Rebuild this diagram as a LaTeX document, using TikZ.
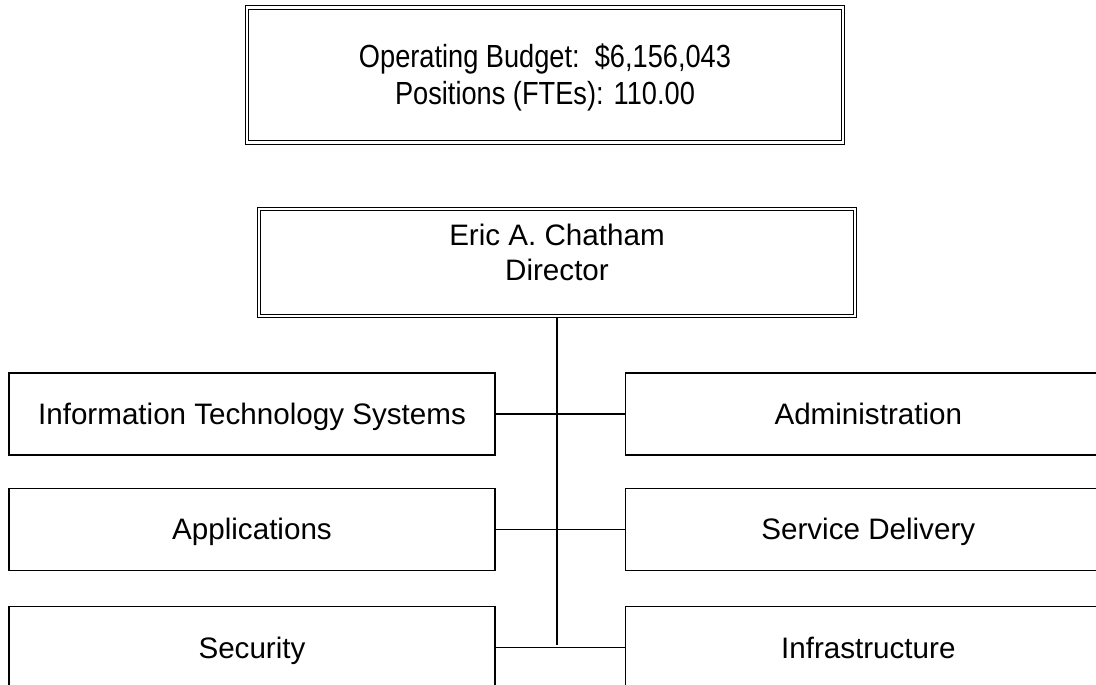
\documentclass[tikz,border=0pt]{standalone}
\usepackage{fontspec}
\setmainfont{Liberation Sans}
\newfontfamily\narrowfont[FakeStretch=0.85]{Liberation Sans}
\usetikzlibrary{positioning}
\tikzset{
  head/.style={draw, double, double distance=2.5pt, line width=1pt, inner sep=0pt,
    align=center},
  unit/.style={draw, line width=1.3pt, minimum width=486pt, minimum height=82pt,
    inner sep=0pt, text height=21pt, text depth=0pt,
    font=\fontsize{29.6}{35}\selectfont},
  link/.style={line width=1.1pt},
}

\begin{document}
\begin{tikzpicture}[x=1pt, y=-1pt, node distance=32pt and 129pt]
    \path[use as bounding box] (0,0) rectangle (1096,685);
    \clip (0,0) rectangle (1096,685);
    \node[head, minimum width=596pt, minimum height=135pt, text height=66pt,
      text depth=6pt, font=\narrowfont\fontsize{32}{37}\selectfont] (budget) at (545,75)
      {Operating Budget:\ \ \$6,156,043\\Positions (FTEs): 110.00};
    \node[head, minimum width=596pt, minimum height=107pt, text height=50pt,
      text depth=15pt, font=\fontsize{29.6}{35}\selectfont] (dir) at (557,262.5)
      {Eric A. Chatham\\Director};
    \node[unit] (its) at (252,414) {Information Technology Systems};
    \node[unit, right=of its] (admin) {Administration};
    \node[unit, below=of its] (apps) {Applications};
    \node[unit, below=of admin] (deliv) {Service Delivery};
    \node[unit, below=35pt of apps] (sec) {Security};
    \node[unit, below=35pt of deliv] (infra) {Infrastructure};
    \coordinate (trunk) at (557,645);
    \draw[link] (dir.south) -- (trunk);
    \draw[link] (its.east) -- (admin.west);
    \draw[link] (apps.east) -- (deliv.west);
    \draw[link] (sec.east) -- (infra.west);
  \end{tikzpicture}
\end{document}
